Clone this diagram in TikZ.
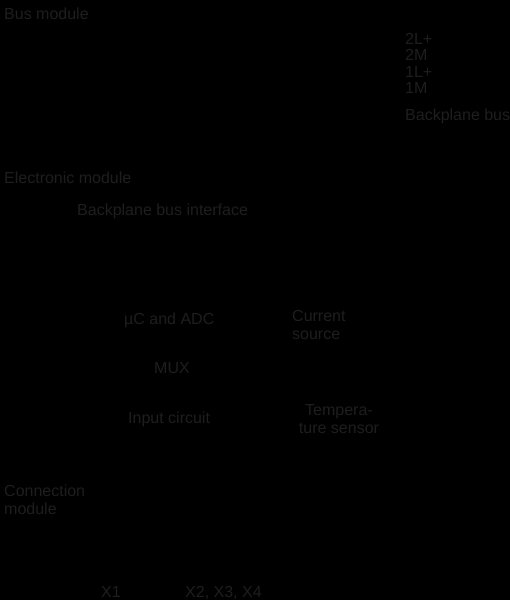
\documentclass[tikz,border=0pt]{standalone}
\usepackage{fontspec}
\setmainfont{Liberation Sans}
\definecolor{txt}{HTML}{1E1E1E}
\begin{document}
\begin{tikzpicture}[x=1pt,y=-1pt,
  lbl/.style={anchor=base west,inner sep=0pt,text=txt,font=\fontsize{16}{18.5}\selectfont,align=left},
  clbl/.style={anchor=base,inner sep=0pt,text=txt,font=\fontsize{16}{18.5}\selectfont,align=center}]
\fill[black] (0,0) rectangle (510,600);
\useasboundingbox (0,0) rectangle (510,600);
\node[lbl] (bus) at (4,19) {Bus module};
\node[lbl] (l2p) at (405,44) {2L+};
\node[lbl] (m2) at (405,60.5) {2M};
\node[lbl] (l1p) at (405,77) {1L+};
\node[lbl] (m1) at (405,93.5) {1M};
\node[lbl] (bpb) at (405,120) {Backplane bus};
\node[lbl] (elec) at (4,183) {Electronic module};
\node[lbl] (bbi) at (77,215) {Backplane bus interface};
\node[lbl] (uc) at (124,324) {µC and ADC};
\node[lbl] (cur) at (292,339.5) {Current\\source};
\node[lbl] (mux) at (154,373) {MUX};
\node[lbl] (inp) at (128,423) {Input circuit};
\node[clbl] (temp) at (339,433.5) {Tempera-\\ture sensor};
\node[lbl] (conn) at (4,514.5) {Connection\\module};
\node[lbl] (x1) at (101,597) {X1};
\node[lbl] (x234) at (185,597) {X2, X3, X4};
\end{tikzpicture}
\end{document}
